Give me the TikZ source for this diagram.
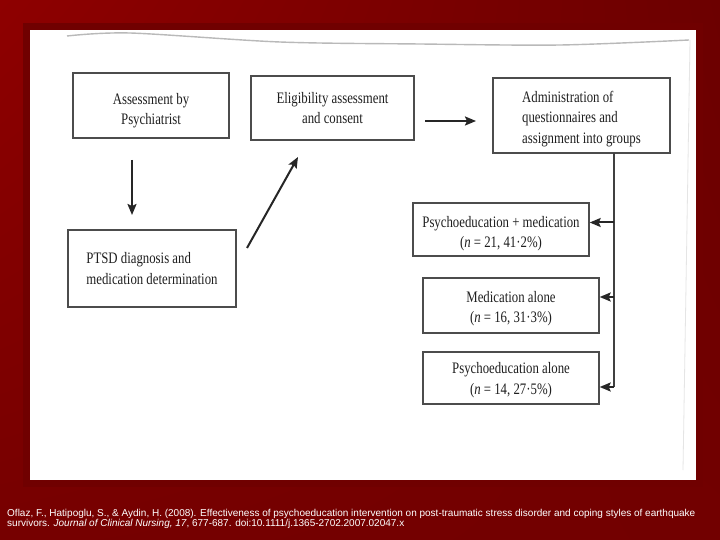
\documentclass[tikz,border=0pt]{standalone}
\usepackage{fontspec}
\setmainfont{Liberation Serif}
\newfontfamily\scanfont[FakeStretch=0.8]{Liberation Serif}
\newfontfamily\capfont{Liberation Sans}
\usetikzlibrary{arrows.meta,shadings}
\definecolor{redUL}{RGB}{142,0,0}
\definecolor{redUR}{RGB}{108,0,0}
\definecolor{redLL}{RGB}{118,0,0}
\definecolor{redLR}{RGB}{114,0,0}
\definecolor{redframe}{RGB}{112,0,0}
\newcommand{\dn}[1]{\rule{0pt}{#1pt}}
\begin{document}
\begin{tikzpicture}[x=1pt,y=-1pt,
  box/.style={draw=black!70, line width=1.4pt, inner sep=0pt,
    font=\scanfont\fontsize{16}{20.5}\selectfont, text=black!88, align=center},
  arr/.style={draw=black!85, line width=2pt, -{Stealth[length=11pt,width=9pt,inset=2pt]}},
  link/.style={draw=black!75, line width=1.3pt}]
\useasboundingbox (0,0) rectangle (720,540);
\shade[upper left=redUL, upper right=redUR, lower left=redLL, lower right=redLR] (0,0) rectangle (720,540);
\fill[redframe] (23,23) rectangle (703,487);
\fill[white] (30,30) rectangle (696,480);
% scan artefacts
\draw[gray!55, line width=1.4pt] plot[smooth] coordinates {(67,36) (130,33) (280,42) (420,44) (560,45) (689,40)};
\draw[gray!20, line width=0.8pt] (690,40) -- (683,470);
% boxes
\node[box, minimum width=156pt, minimum height=65pt] (assess) at (151,105.5) {\dn{21}Assessment by\\Psychiatrist};
\node[box, minimum width=163pt, minimum height=64pt] (elig) at (332.5,108) {Eligibility assessment\\and consent};
\node[box, minimum width=177pt, minimum height=75pt, align=left] (admin) at (581.5,115.5) {\dn{18}Administration of\\questionnaires and\\assignment into groups};
\node[box, minimum width=168pt, minimum height=77pt, align=left] (ptsd) at (152,268.5) {PTSD diagnosis and\\medication determination};
\node[box, minimum width=176pt, minimum height=53pt] (pm) at (501,229.5) {\dn{19}Psychoeducation + medication\\(\textit{n} = 21, 41·2\%)};
\node[box, minimum width=176pt, minimum height=55pt] (ma) at (511,305.5) {\dn{17}Medication alone\\(\textit{n} = 16, 31·3\%)};
\node[box, minimum width=176pt, minimum height=52pt] (pa) at (511,378) {\dn{15}Psychoeducation alone\\(\textit{n} = 14, 27·5\%)};
% free arrow ends
\coordinate (d1) at (132,160);
\coordinate (d2) at (132,215);
\coordinate (g1) at (247,248);
\coordinate (g2) at (298,157);
\coordinate (h1) at (425,121);
\coordinate (h2) at (476,121);
\coordinate (trunk) at (614,153);
\coordinate (b1) at (614,222.5);
\coordinate (b2) at (614,297);
\coordinate (b3) at (614,387);
% connectors
\draw[arr] (d1) -- (d2);
\draw[arr] (g1) -- (g2);
\draw[arr] (h1) -- (h2);
\draw[link] (trunk) -- (b3);
\draw[arr] (b1) -- (b1 -| pm.east);
\draw[arr] (b2) -- (b2 -| ma.east);
\draw[arr] (b3) -- (b3 -| pa.east);
% caption
\node[anchor=north west, inner sep=0pt, text=white, align=left,
  font=\capfont\fontsize{10}{9.8}\selectfont] (cap) at (7,509)
  {Oflaz, F., Hatipoglu, S., \& Aydin, H. (2008). Effectiveness of psychoeducation intervention on post-traumatic stress disorder and coping styles of earthquake\\
   survivors. \textit{Journal of Clinical Nursing, 17}, 677-687. doi:10.1111/j.1365-2702.2007.02047.x};
\end{tikzpicture}
\end{document}
